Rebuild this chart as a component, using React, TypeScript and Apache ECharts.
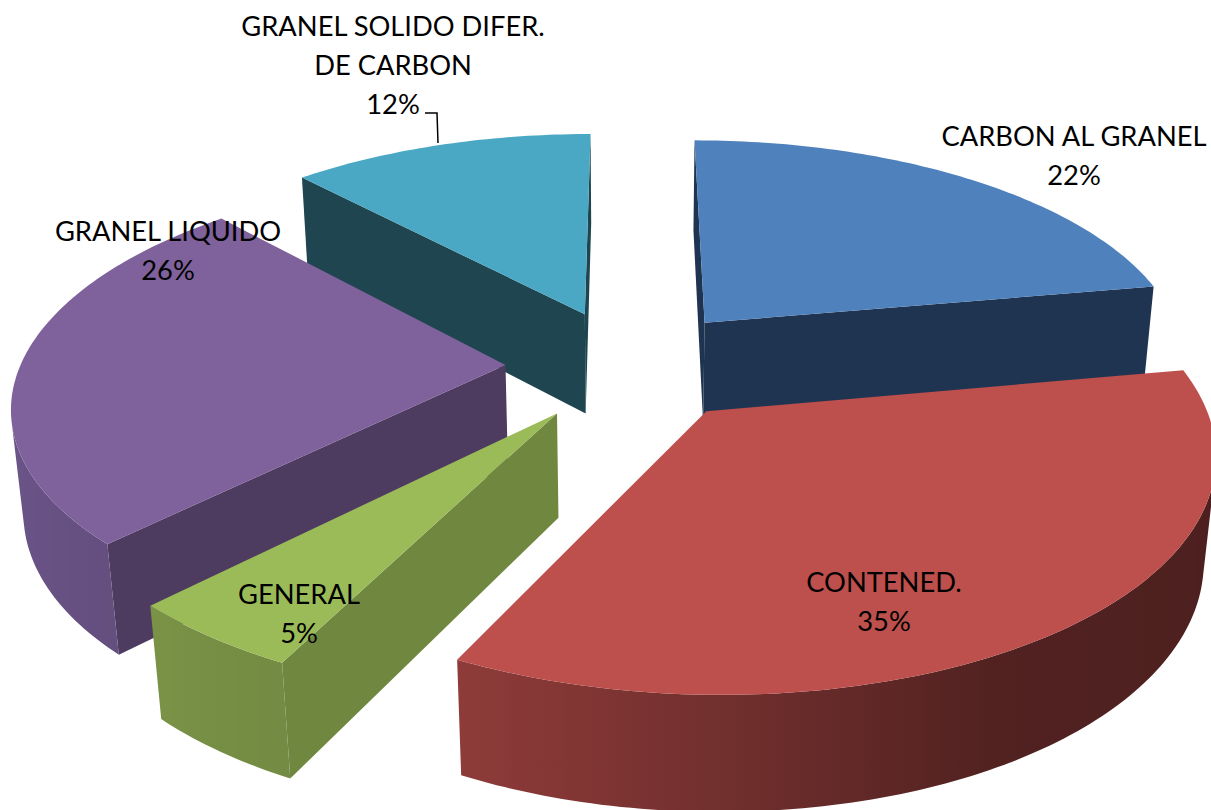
import React, { useEffect, useRef } from "react";
import * as echarts from "echarts";

const categories = ["CARBON AL GRANEL", "CONTENED.", "GENERAL", "GRANEL LIQUIDO", "GRANEL SOLIDO DIFER.\nDE CARBON"];
const shares = [22, 35, 5, 26, 12];
const topColors = ["#4F81BD", "#BD4F4C", "#9BBB59", "#7F619C", "#4AA8C4"];
const wallColors = ["#1F3450", "#4E1F1E", "#6F873F", "#4E3B60", "#1F4650"];
const outerColors = ["#4F81BD", "#C0504D", "#9BBB59", "#8064A2", "#4BACC6"];
const labelCenters = [[1074, 155], [884, 601], [299, 613], [168, 250], [393, 64]];

// Camera model of the exploded 3D pie
const CX = 628.5, CY = 365, RADIUS = 485, EXPLODE = 123;
const PERSP = 0.000323, TILT = 0.46, DEPTH = 104, DEPTH_PERSP = 0.02;
const WARP = (1.5 * Math.PI) / 180;

const project = (X: number, Y: number, Z: number): number[] => {
  const w = 1 - PERSP * Y + DEPTH_PERSP * Z;
  return [CX + X / w, CY + (TILT * Y + DEPTH * Z) / w];
};
const shadeStops = [[-1, 0.84], [-0.42, 0.74], [0, 0.6], [0.5, 0.42], [1, 0.4]];
const shadeFactor = (s: number): number => {
  for (let i = 1; i < shadeStops.length; i++) {
    if (s <= shadeStops[i][0]) {
      const [a, fa] = shadeStops[i - 1];
      const [b, fb] = shadeStops[i];
      return fa + ((fb - fa) * (s - a)) / (b - a);
    }
  }
  return 0.4;
};
const shade = (hex: string, f: number): string => {
  const n = parseInt(hex.slice(1), 16);
  const c = [(n >> 16) & 255, (n >> 8) & 255, n & 255].map((v) => Math.round(v * f));
  return `rgb(${c[0]},${c[1]},${c[2]})`;
};
const area = (p: number[][]): number => {
  let s = 0;
  p.forEach((q, i) => {
    const r = p[(i + 1) % p.length];
    s += q[0] * r[1] - r[0] * q[1];
  });
  return s / 2;
};

const total = shares.reduce((a, b) => a + b, 0);

const renderSlice = (params: any, api: any) => {
  const i = params.dataIndex;
  const before = shares.slice(0, i).reduce((a, b) => a + b, 0);
  const a0 = (before / total) * Math.PI * 2;
  const a1 = a0 + (api.value(0) / total) * Math.PI * 2;
  const mid = (a0 + a1) / 2;
  const ox = EXPLODE * Math.sin(mid);
  const oy = -EXPLODE * Math.cos(mid);
  const rim = (a: number, z: number) => {
    const t = a + WARP * Math.sin(a / 2) ** 2;
    return project(ox + RADIUS * Math.sin(t), oy - RADIUS * Math.cos(t), z);
  };
  const z2 = Math.round(oy) + 300;
  const children: any[] = [];
  const poly = (points: number[][], fill: any, z = z2) =>
    children.push({
      type: "polygon",
      shape: { points },
      z2: z,
      style: { fill, stroke: "none" },
    });

  const apexT = project(ox, oy, 0);
  const apexB = project(ox, oy, 1);
  // radial walls, only when they face the viewer
  const wallStart = [apexT, rim(a0, 0), rim(a0, 1), apexB];
  if (area(wallStart) < 0) poly(wallStart, wallColors[i]);
  const wallEnd = [apexT, rim(a1, 0), rim(a1, 1), apexB];
  if (area(wallEnd) > 0) poly(wallEnd, wallColors[i]);

  // outer curved wall: one polygon for its visible run, shaded by a horizontal gradient
  const steps = Math.max(4, Math.ceil((a1 - a0) / (Math.PI / 180)));
  const upper: number[][] = [];
  const lower: number[][] = [];
  const tones: [number, string][] = [];
  for (let k = 0; k < steps; k++) {
    const t0 = a0 + ((a1 - a0) * k) / steps;
    const t1 = a0 + ((a1 - a0) * (k + 1)) / steps;
    const q = [rim(t0, 0), rim(t1, 0), rim(t1, 1), rim(t0, 1)];
    if (area(q) < 0) {
      if (!upper.length) {
        upper.push(q[0]);
        lower.push(q[3]);
        tones.push([q[0][0], shade(outerColors[i], shadeFactor(Math.sin(t0)))]);
      }
      upper.push(q[1]);
      lower.push(q[2]);
      tones.push([q[1][0], shade(outerColors[i], shadeFactor(Math.sin(t1)))]);
    }
  }
  if (upper.length > 1) {
    const points = upper.concat(lower.slice().reverse());
    const xs = points.map((p) => p[0]);
    const minX = Math.min(...xs);
    const maxX = Math.max(...xs);
    const stops = tones
      .map(([x, color]) => ({ offset: (x - minX) / (maxX - minX), color }))
      .sort((a, b) => a.offset - b.offset);
    poly(points, new echarts.graphic.LinearGradient(0, 0, 1, 0, stops));
  }

  // top face
  const top = [apexT];
  for (let k = 0; k <= steps; k++) top.push(rim(a0 + ((a1 - a0) * k) / steps, 0));
  poly(top, topColors[i], z2 + 1);
  return { type: "group", children };
};

export default function App() {
  const ref = useRef<HTMLDivElement>(null);
  useEffect(() => {
    document.body.style.margin = "0";
    const chart = echarts.init(ref.current!, null, { renderer: "svg" });
    chart.setOption({
      animation: false,
      backgroundColor: "#ffffff",
      series: [
        {
          type: "custom",
          coordinateSystem: "none",
          silent: true,
          renderItem: renderSlice,
          data: shares.map((v) => [v]),
        },
      ],
      graphic: [
        ...categories.map((name, i) => ({
          type: "text",
          x: labelCenters[i][0],
          y: labelCenters[i][1],
          z: 100,
          silent: true,
          style: {
            text: `${name}\n${shares[i]}%`,
            fontFamily: "Lato",
            fontSize: 27.3,
            lineHeight: 39,
            fill: "#000000",
            align: "center",
            verticalAlign: "middle",
          },
        })),
        {
          type: "polyline",
          z: 100,
          silent: true,
          shape: { points: [[425, 113], [437, 113], [438, 143]] },
          style: { stroke: "#000000", lineWidth: 1.5, fill: "none" },
        },
      ],
    });
    return () => chart.dispose();
  }, []);
  return <div ref={ref} style={{ width: 1211, height: 810 }} />;
}
